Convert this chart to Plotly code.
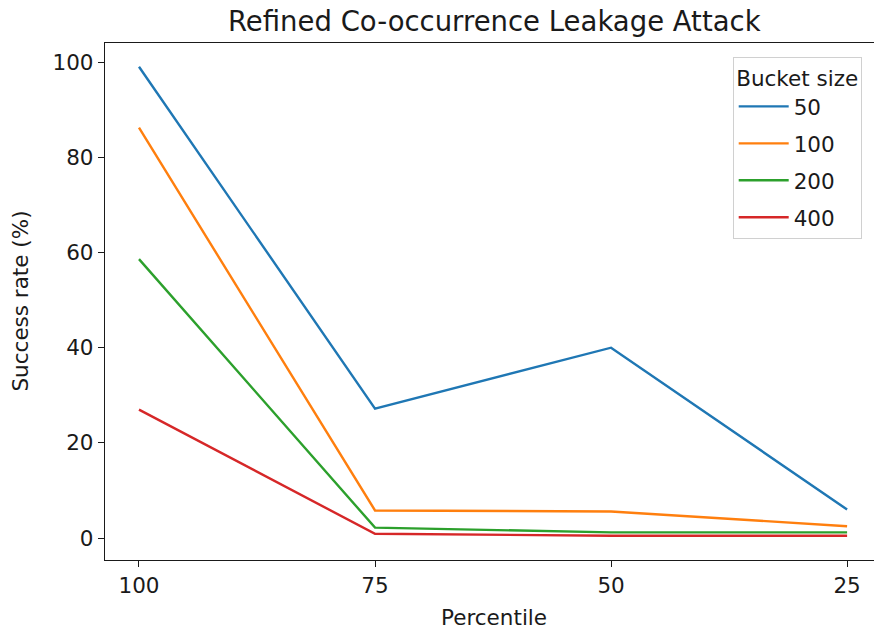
import plotly.graph_objects as go

percentiles = ["100", "75", "50", "25"]
bucket_sizes = ["50", "100", "200", "400"]
rate_50 = [99.0, 27.2, 40.0, 6.0]
rate_100 = [86.2, 5.8, 5.6, 2.5]
rate_200 = [58.6, 2.2, 1.2, 1.2]
rate_400 = [27.0, 0.9, 0.5, 0.5]
series = [rate_50, rate_100, rate_200, rate_400]
colors = ["#1f77b4", "#ff7f0e", "#2ca02c", "#d62728"]

FONT = "DejaVu Sans"
FS = 21.5
fig = go.Figure()
for name, vals, c in zip(bucket_sizes, series, colors):
    fig.add_trace(go.Scatter(
        x=list(range(len(percentiles))), y=vals, mode="lines", name=name,
        legendgroup=name, line=dict(color=c, width=2.4),
    ))

W, H = 874, 629
L, R, T, B = 105, 0, 43, 69
fig.update_layout(
    width=W, height=H,
    margin=dict(l=L, r=R, t=T, b=B),
    paper_bgcolor="white", plot_bgcolor="white",
    font=dict(family=FONT, size=FS, color="#1a1a1a"),
    showlegend=True,
    legend=dict(
        title=dict(text="Bucket size", side="top center", font=dict(size=FS)),
        x=0.984, y=0.973, xanchor="right", yanchor="top",
        bordercolor="#d0d0d0", borderwidth=1, bgcolor="rgba(255,255,255,0.85)",
        tracegroupgap=6, itemwidth=50, font=dict(size=FS),
    ),
    annotations=[
        dict(text="Refined Co-occurrence Leakage Attack", xref="paper", yref="paper",
             x=0.506, y=1, yshift=22, xanchor="center", yanchor="middle",
             showarrow=False, font=dict(size=27.5, family=FONT, color="#1a1a1a")),
        dict(text="Percentile", xref="paper", yref="paper",
             x=0.506, y=0, yshift=-57, xanchor="center", yanchor="middle",
             showarrow=False, font=dict(size=FS, family=FONT, color="#1a1a1a")),
        dict(text="Success rate (%)", xref="paper", yref="paper",
             x=-0.1105, y=0.5, xanchor="center", yanchor="middle", textangle=-90,
             showarrow=False, font=dict(size=FS, family=FONT, color="#1a1a1a")),
    ],
)
fig.update_xaxes(
    range=[-0.144, 3.114], tickmode="array", tickvals=list(range(len(percentiles))),
    ticktext=percentiles, ticks="outside", ticklen=6, tickcolor="#1a1a1a",
    showgrid=False, zeroline=False, showline=True, linecolor="#1a1a1a", linewidth=1.3,
    mirror=True, tickfont=dict(size=FS),
)
fig.update_yaxes(
    range=[-4.6, 104.0], tickvals=[0, 20, 40, 60, 80, 100],
    ticks="outside", ticklen=6, tickcolor="#1a1a1a",
    showgrid=False, zeroline=False, showline=True, linecolor="#1a1a1a", linewidth=1.3,
    mirror=True, tickfont=dict(size=FS),
)
fig.write_html("out.html")
